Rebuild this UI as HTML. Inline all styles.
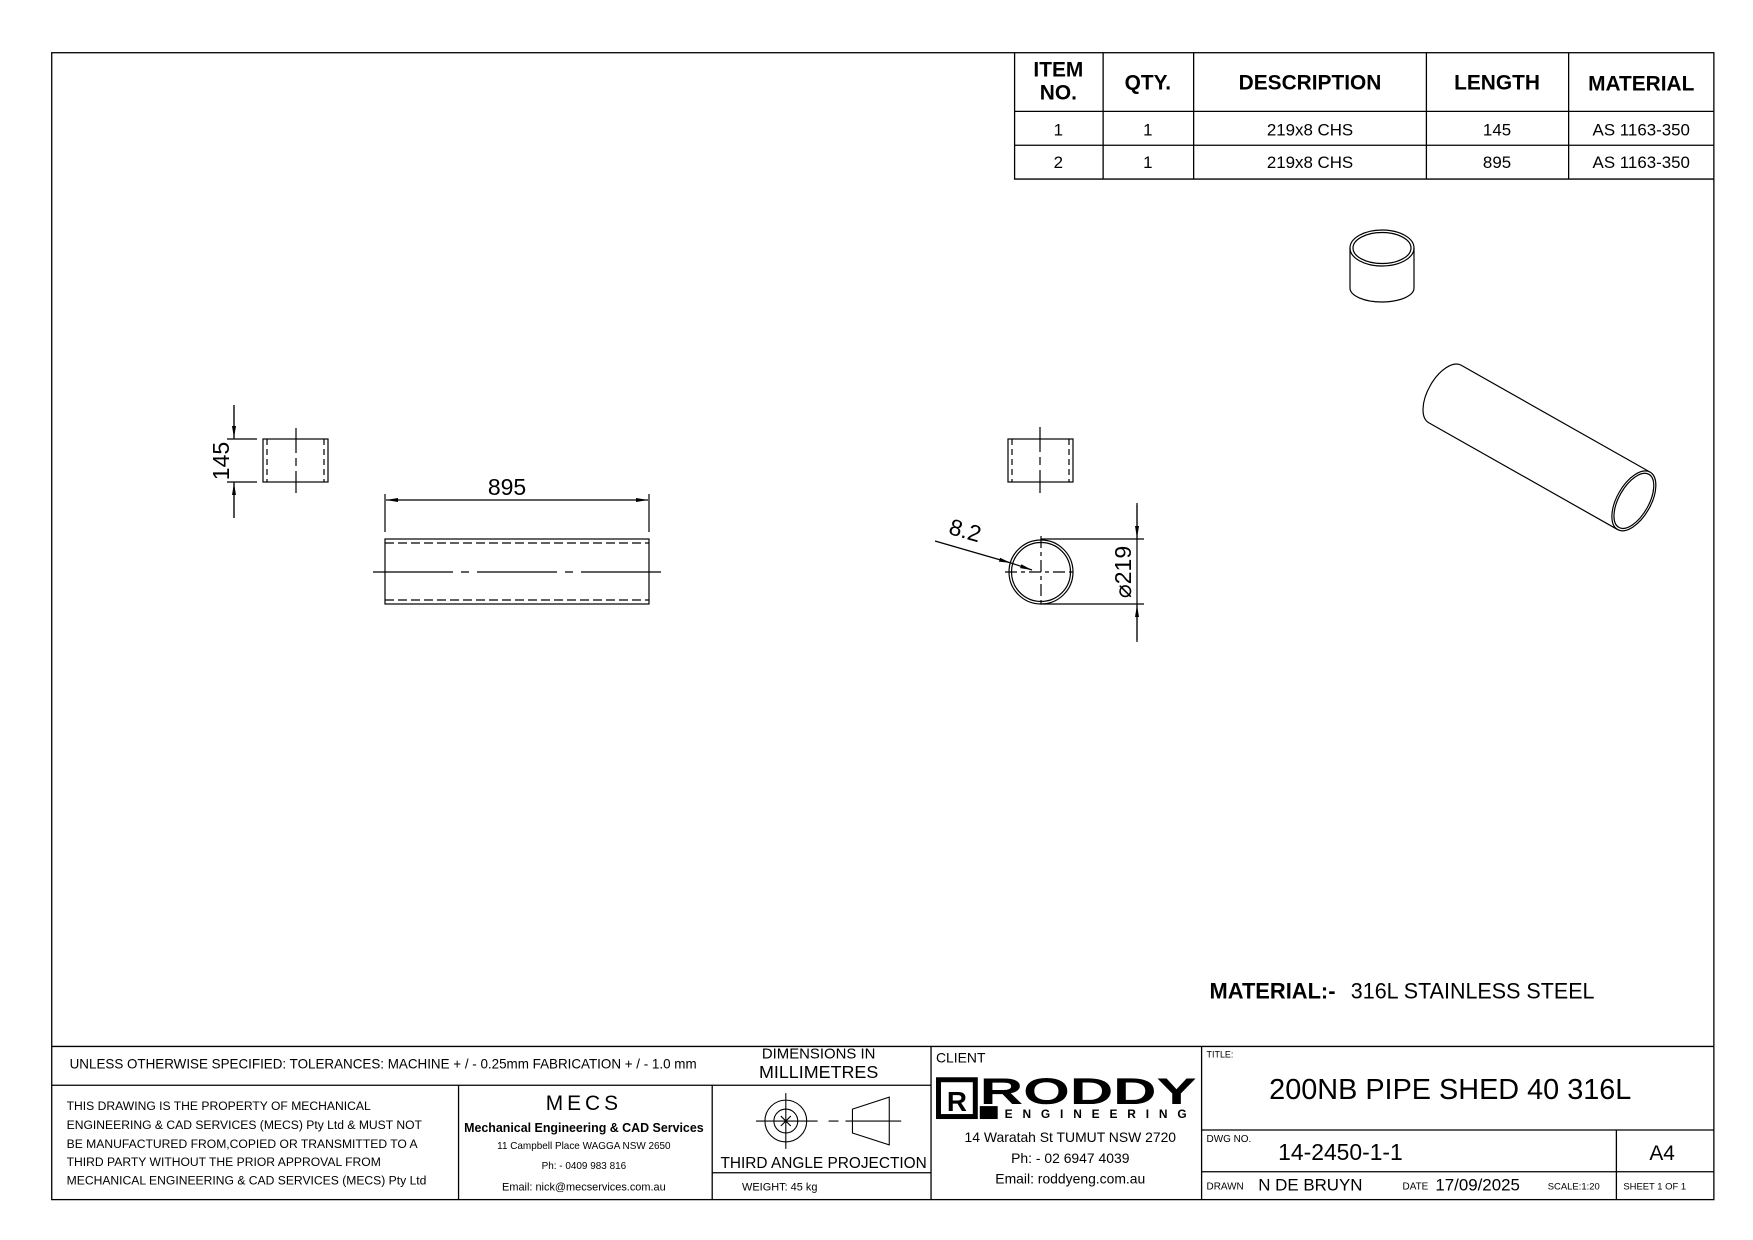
<!DOCTYPE html>
<html><head><meta charset="utf-8"><style>
html,body{margin:0;padding:0;background:#fff}
svg{display:block}
text{font-family:"Liberation Sans",sans-serif;fill:#000}
</style></head><body>
<svg width="1753" height="1240" viewBox="0 0 1753 1240" xmlns="http://www.w3.org/2000/svg">
<defs>
<marker id="ar" markerWidth="12" markerHeight="6" refX="12" refY="3" orient="auto" markerUnits="userSpaceOnUse"><path d="M0,1 L12,3 L0,5 Z" fill="#000"/></marker>
</defs>
<g transform="scale(0.9947)">
<g fill="none" stroke="#000" stroke-width="1.3">
<rect x="52" y="53" width="1671" height="1153"/>
<path d="M1020 53 V180 H1723 M1020 112 H1723 M1020 146 H1723 M1109 53 V180 M1200 53 V180 M1434 53 V180 M1577 53 V180"/>
<path d="M52 1052 H1723 M52 1091 H936 M461 1091 V1206 M716 1091 V1206 M716 1179 H936 M936 1052 V1206 M1208 1052 V1206 M1208 1136 H1723 M1208 1178 H1723 M1625 1136 V1206"/>
</g>
<g font-size="21" font-weight="bold" text-anchor="middle">
<text x="1064" y="77">ITEM</text><text x="1064" y="100">NO.</text>
<text x="1154" y="90">QTY.</text>
<text x="1317" y="90">DESCRIPTION</text>
<text x="1505" y="90">LENGTH</text>
<text x="1650" y="91">MATERIAL</text>
</g>
<g font-size="17" text-anchor="middle">
<text x="1064" y="136">1</text><text x="1154" y="136">1</text><text x="1317" y="136">219x8 CHS</text><text x="1505" y="136">145</text><text x="1650" y="136">AS 1163-350</text>
<text x="1064" y="169">2</text><text x="1154" y="169">1</text><text x="1317" y="169">219x8 CHS</text><text x="1505" y="169">895</text><text x="1650" y="169">AS 1163-350</text>
</g>
<text x="1216" y="1004" font-size="22" font-weight="bold">MATERIAL:-</text>
<text x="1358" y="1004" font-size="22" textLength="245" lengthAdjust="spacingAndGlyphs">316L STAINLESS STEEL</text>
<text x="70" y="1074" font-size="13.5">UNLESS OTHERWISE SPECIFIED: TOLERANCES: MACHINE + / - 0.25mm  FABRICATION + / - 1.0 mm</text>
<text x="823" y="1064" font-size="15" text-anchor="middle">DIMENSIONS IN</text>
<text x="823" y="1084" font-size="18" text-anchor="middle">MILLIMETRES</text>
<g font-size="12.2">
<text x="67" y="1116">THIS DRAWING IS THE PROPERTY OF MECHANICAL</text>
<text x="67" y="1135">ENGINEERING &amp; CAD SERVICES (MECS) Pty Ltd &amp; MUST NOT</text>
<text x="67" y="1154">BE MANUFACTURED FROM,COPIED OR TRANSMITTED TO A</text>
<text x="67" y="1172">THIRD PARTY WITHOUT THE PRIOR APPROVAL FROM</text>
<text x="67" y="1191">MECHANICAL ENGINEERING &amp; CAD SERVICES (MECS) Pty Ltd</text>
</g>
<g text-anchor="middle">
<text x="587" y="1116" font-size="21" letter-spacing="4">MECS</text>
<text x="587" y="1138" font-size="12.5" font-weight="bold">Mechanical Engineering &amp; CAD Services</text>
<text x="587" y="1155" font-size="10">11 Campbell Place WAGGA NSW 2650</text>
<text x="587" y="1175" font-size="10">Ph: - 0409 983 816</text>
<text x="587" y="1197" font-size="11">Email: nick@mecservices.com.au</text>
<text x="828" y="1174" font-size="15.5">THIRD ANGLE PROJECTION</text>
</g>
<text x="746" y="1197" font-size="11">WEIGHT: 45 kg</text>
<g fill="none" stroke="#000" stroke-width="1.1">
<circle cx="790" cy="1127" r="21"/><circle cx="790" cy="1127" r="12"/>
<path d="M760 1127 H822 M790 1099 V1155 M833 1127 H843 M850 1127 H906 M785 1122 L795 1132 M795 1122 L785 1132"/>
<path d="M857 1115 L894 1103 V1151 L857 1139 Z"/>
</g>
<text x="941" y="1068" font-size="14">CLIENT</text>
<rect x="941" y="1083" width="42" height="42" fill="#000"/>
<rect x="946" y="1088" width="32" height="32" fill="#fff"/>
<text x="962" y="1117" font-size="28" font-weight="bold" text-anchor="middle">R</text>
<text x="985" y="1110" font-size="37" font-weight="bold" textLength="218" lengthAdjust="spacingAndGlyphs">RODDY</text>
<rect x="985" y="1112" width="18" height="13" fill="#000"/>
<text x="1010" y="1124" font-size="12" font-weight="bold" textLength="192" lengthAdjust="spacing" letter-spacing="9">ENGINEERING</text>
<g text-anchor="middle" font-size="14">
<text x="1076" y="1148">14 Waratah St TUMUT NSW 2720</text>
<text x="1076" y="1169">Ph: - 02 6947 4039</text>
<text x="1076" y="1190">Email: roddyeng.com.au</text>
</g>
<text x="1213" y="1063" font-size="9">TITLE:</text>
<text x="1458" y="1105" font-size="29" text-anchor="middle">200NB PIPE SHED 40 316L</text>
<text x="1213" y="1148" font-size="10">DWG NO.</text>
<text x="1285" y="1166" font-size="23">14-2450-1-1</text>
<text x="1671" y="1166" font-size="21" text-anchor="middle">A4</text>
<text x="1213" y="1196" font-size="10">DRAWN</text>
<text x="1265" y="1197" font-size="17">N DE BRUYN</text>
<text x="1410" y="1196" font-size="10">DATE</text>
<text x="1443" y="1197" font-size="17">17/09/2025</text>
<text x="1556" y="1196" font-size="9.5">SCALE:1:20</text>
<text x="1632" y="1196" font-size="9.5">SHEET 1 OF 1</text>
</g>
<!-- drawing views -->
<g fill="none" stroke="#000" stroke-width="1.2">
<rect x="263" y="439" width="65" height="43"/>
<path d="M267 439 V482 M324 439 V482" stroke-dasharray="6,4"/>
<path d="M296 428 V493" stroke-dasharray="25,5,8,5"/>
<path d="M227 439 H257 M227 482 H257 M234 405 V439 M234 482 V518"/>
<path d="M234 405 V438" marker-end="url(#ar)"/>
<path d="M234 518 V483" marker-end="url(#ar)"/>
<rect x="385" y="539" width="264" height="65"/>
<path d="M385 543 H649 M385 600 H649" stroke-dasharray="9,4"/>
<path d="M373 572 H661" stroke-dasharray="80,8,8,8"/>
<path d="M385 494 V532 M649 494 V532"/>
<path d="M440 500 H386" marker-end="url(#ar)"/>
<path d="M600 500 H648" marker-end="url(#ar)"/>
<path d="M440 500 H600"/>
<rect x="1008" y="439" width="65" height="43"/>
<path d="M1012 439 V482 M1069 439 V482" stroke-dasharray="6,4"/>
<path d="M1040 427 V493" stroke-dasharray="25,5,8,5"/>
<circle cx="1041" cy="572" r="32"/>
<circle cx="1041" cy="572" r="29.5"/>
<path d="M1005 572 H1077 M1041 536 V608" stroke-dasharray="12,4,4,4"/>
<path d="M1041 539 H1144 M1041 604 H1144 M1137 503 V642"/>
<path d="M1137 505 V538" marker-end="url(#ar)"/>
<path d="M1137 640 V605" marker-end="url(#ar)"/>
<path d="M935 541 L1011 563" marker-end="url(#ar)"/>
<path d="M1011 563 L1032 570" marker-end="url(#ar)"/>
<ellipse cx="1382" cy="248" rx="32" ry="18"/>
<ellipse cx="1382" cy="248" rx="29" ry="15.5"/>
<path d="M1350 248 V288 A32 14 0 0 0 1414 288 V248"/>
<g transform="translate(1445,394) rotate(29.5)">
<path d="M0 -33 H217 M0 33 H217 M0 -33 A17 33 0 0 0 0 33"/>
<ellipse cx="217" cy="0" rx="17" ry="33"/>
<ellipse cx="217" cy="0" rx="15" ry="30.5"/>
</g>
</g>
<text x="0" y="0" font-size="23" text-anchor="middle" transform="translate(229,461) rotate(-90)">145</text>
<text x="507" y="495" font-size="23" text-anchor="middle">895</text>
<text x="0" y="0" font-size="23" text-anchor="middle" transform="translate(1131,572) rotate(-90)">⌀219</text>
<text x="0" y="0" font-size="23" text-anchor="middle" transform="translate(963,538) rotate(16)">8.2</text>
</svg>
</body></html>
